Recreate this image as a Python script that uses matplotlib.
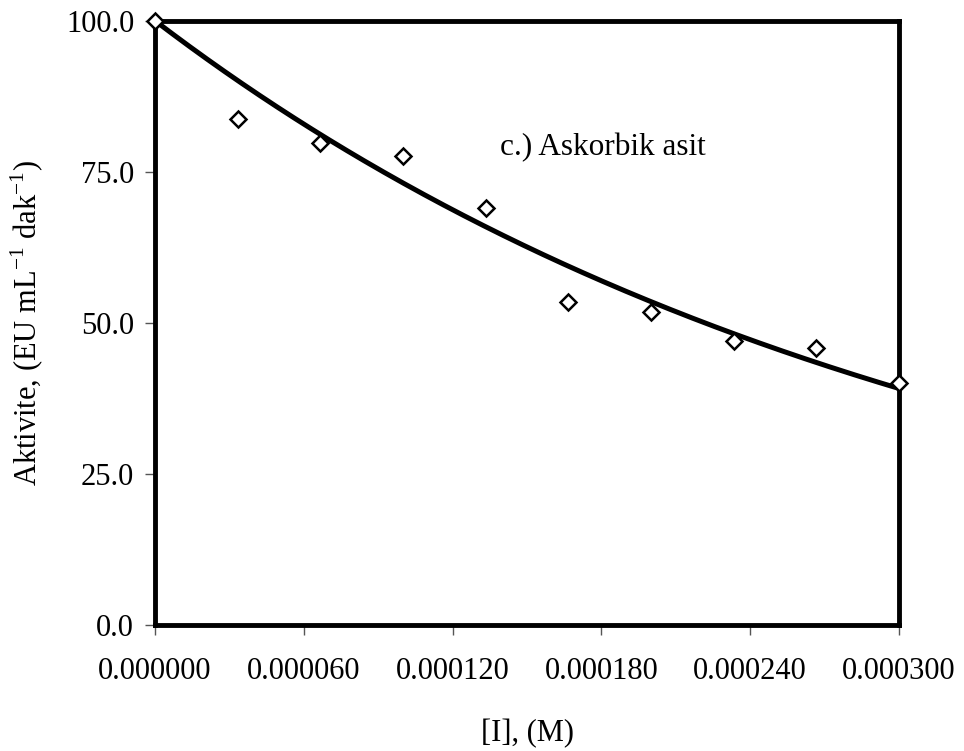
import numpy as np
import matplotlib.pyplot as plt

# ========================
# Data
# ========================
conc = [0.0, 0.0000333, 0.0000667, 0.0001, 0.0001333,
        0.0001667, 0.0002, 0.0002333, 0.0002667, 0.0003]
activity = [100.0, 83.7, 79.8, 77.6, 69.0, 53.5, 51.8, 47.0, 45.8, 40.1]

x_ticks = [0.0, 0.00006, 0.00012, 0.00018, 0.00024, 0.0003]
y_ticks = [0.0, 25.0, 50.0, 75.0, 100.0]

plt.rcParams['font.family'] = ['Liberation Serif', 'DejaVu Serif']
plt.rcParams['mathtext.fontset'] = 'custom'
plt.rcParams['mathtext.rm'] = 'Liberation Serif'

# exponential trendline with intercept fixed at 100 (fit to the points)
x = np.array(conc)
y = np.array(activity)
k = np.sum(x * np.log(y / 100.0)) / np.sum(x ** 2)
xf = np.linspace(0, 0.0003, 300)
yf = 100.0 * np.exp(k * xf)

fig = plt.figure(figsize=(9.64, 7.51), dpi=100)
ax = fig.add_axes([0.1608, 0.1678, 0.7718, 0.8046])

ax.plot(xf, yf, color='black', lw=3.6, zorder=2)
ax.plot(conc, activity, linestyle='none', marker='D', markersize=8.5,
        markerfacecolor='white', markeredgecolor='black', markeredgewidth=1.8,
        clip_on=False, zorder=3)

ax.set_xlim(0, 0.0003)
ax.set_ylim(0, 100)
ax.set_xticks(x_ticks)
ax.set_xticklabels([f"{v:.6f}" for v in x_ticks])
ax.set_yticks(y_ticks)
ax.set_yticklabels([f"{v:.1f}" for v in y_ticks])

for s in ax.spines.values():
    s.set_linewidth(3.5)
    s.set_color('black')

ax.tick_params(direction='out', length=7, width=1, color='#555555',
               labelsize=22, pad=8)
ax.tick_params(axis='x', pad=16)

ax.set_xlabel("[I], (M)", fontsize=22, labelpad=24)
ax.set_ylabel("Aktivite, (EU mL$^{\\mathrm{-1}}$ dak$^{\\mathrm{-1}}$)",
              fontsize=22, labelpad=14)

ax.text(0.0001391, 77.8, "c.) Askorbik asit", fontsize=22.5,
        va='baseline', ha='left')

fig.savefig("out.png", dpi=100)
